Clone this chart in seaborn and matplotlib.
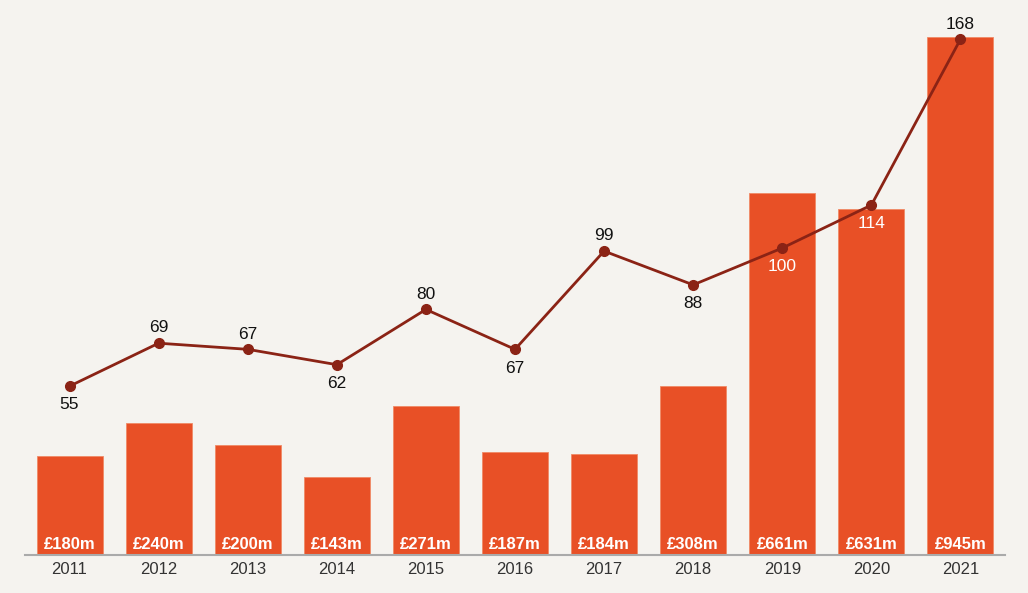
import matplotlib
matplotlib.use('Agg')
import matplotlib.pyplot as plt
import seaborn as sns
import pandas as pd

# Data
years = ['2011', '2012', '2013', '2014', '2015', '2016', '2017', '2018', '2019', '2020', '2021']
value_m = [180, 240, 200, 143, 271, 187, 184, 308, 661, 631, 945]
deals = [55, 69, 67, 62, 80, 67, 99, 88, 100, 114, 168]
# label placement for the deal counts: 1 above the point, -1 below
label_side = [-1, 1, 1, -1, 1, -1, 1, -1, -1, -1, 1]

bg = '#f5f3ef'
bar_color = '#e85026'
line_color = '#8b2315'

sns.set_theme(style='white')
plt.rcParams['font.family'] = ['Liberation Sans', 'DejaVu Sans']

df = pd.DataFrame({'year': years, 'value': value_m, 'deals': deals})

fig = plt.figure(figsize=(10.28, 5.93), dpi=100, facecolor=bg)
ax = fig.add_axes([25 / 1028, 38 / 593, 980 / 1028, 535 / 593])
ax.set_facecolor(bg)

sns.barplot(data=df, x='year', y='value', color=bar_color, width=0.74,
            saturation=1, edgecolor='#f08a66', linewidth=0.6, ax=ax)
ax.set_ylim(0, 976)
ax.set_xlim(-0.5, 10.5)

for i, v in enumerate(value_m):
    ax.text(i, 11, f'£{v}m', ha='center', va='baseline', color='white',
            fontsize=12, fontweight='bold')

ax.set_xlabel('')
ax.set_ylabel('')
ax.set_yticks([])
ax.tick_params(axis='x', length=0, labelsize=12, colors='#333333', pad=5)
for s in ['top', 'right', 'left']:
    ax.spines[s].set_visible(False)
ax.spines['bottom'].set_color('#aaaaaa')
ax.spines['bottom'].set_linewidth(1.5)

# Deal count line on twin axis
ax2 = ax.twinx()
ax2.plot(range(len(deals)), deals, color=line_color, linewidth=2,
         marker='o', markersize=7, zorder=5)
ax2.set_ylim(0, 976 / 5.6)
ax2.set_xlim(-0.5, 10.5)
ax2.axis('off')

for i, (d, side) in enumerate(zip(deals, label_side)):
    inside = value_m[i] * 0.548 > d * 3.07 - 20
    col = 'white' if (side < 0 and inside) else '#111111'
    off = 11 if side > 0 else -13.5
    ax2.annotate(str(d), (i, d), xytext=(0, off), textcoords='offset points',
                 ha='center', va='center', fontsize=12.5, color=col)

fig.savefig('out.png', dpi=100, facecolor=bg)
